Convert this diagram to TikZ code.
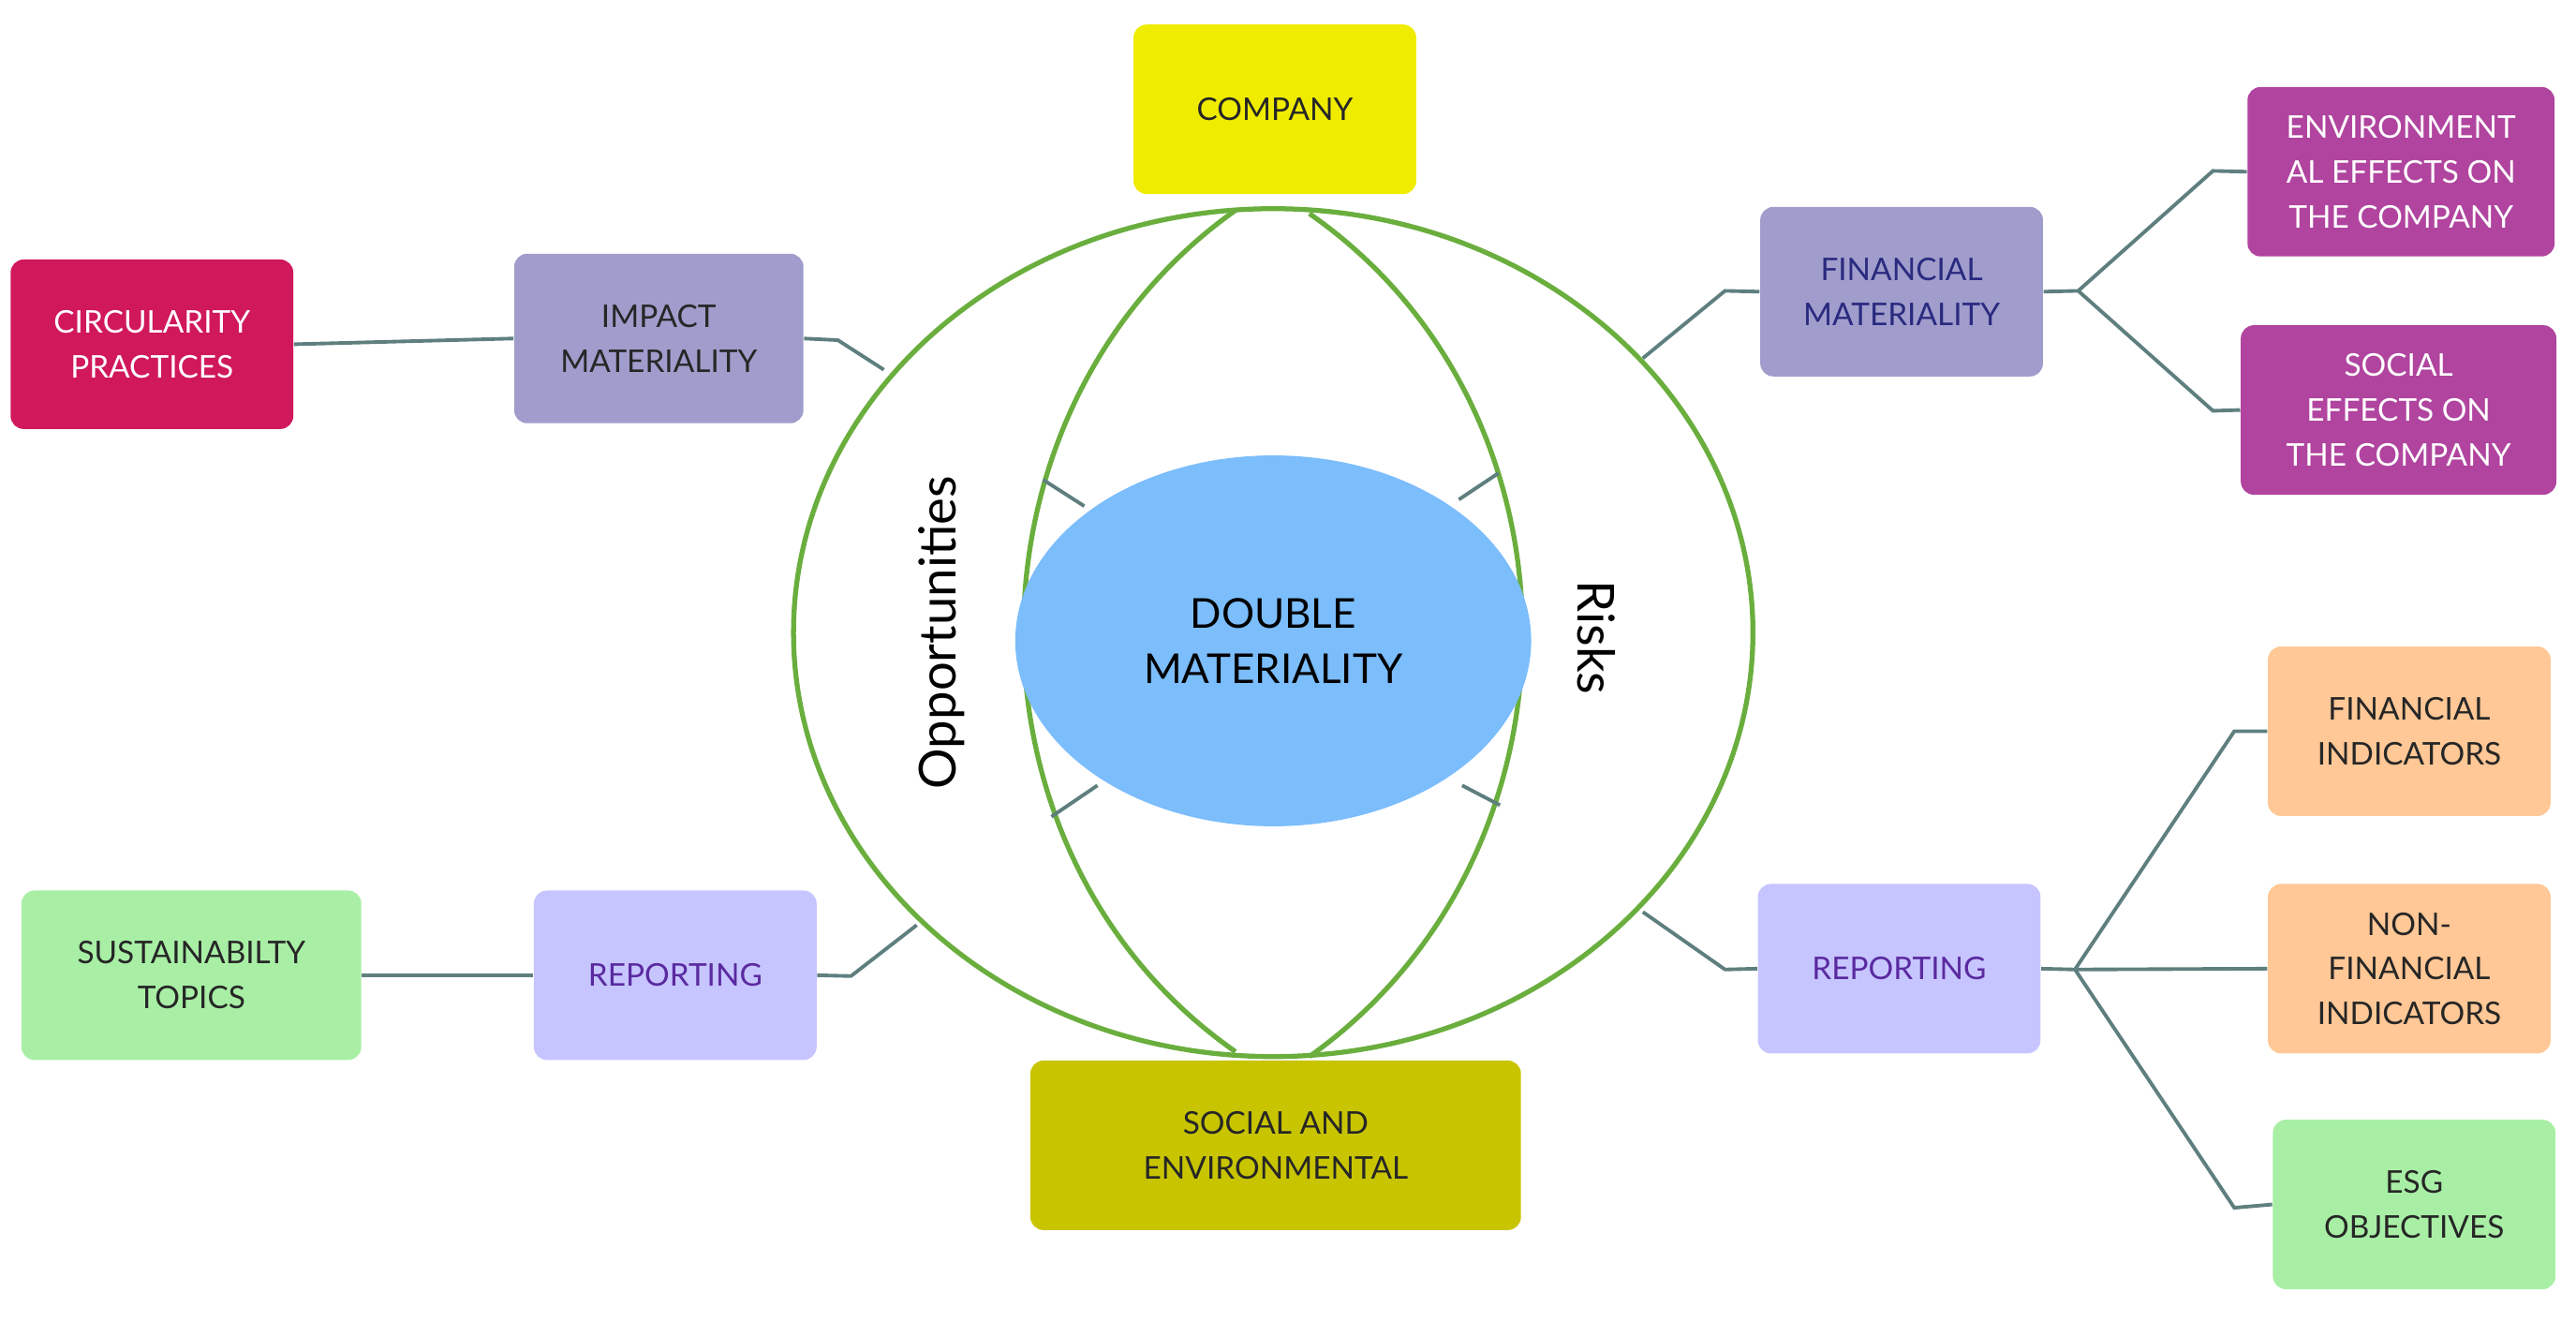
\documentclass[tikz,border=0pt]{standalone}
\usepackage{fontspec}
\setmainfont{Lato}
\usetikzlibrary{shapes.geometric}
\begin{document}
\begin{tikzpicture}[x=0.01754cm,y=-0.01754cm,
  box/.style={rounded corners=0.14cm,minimum width=3.02cm,minimum height=1.81cm,align=center,inner sep=2pt,font=\fontsize{9.5}{13.6}\selectfont,text=black!85},
  con/.style={draw=conc,line width=1.1pt},
  ring/.style={draw=ringc,line width=1.5pt}]
\definecolor{conc}{HTML}{5F7F7F}
\definecolor{ringc}{HTML}{6AAE3E}
\definecolor{cyel}{HTML}{F0EC00}
\definecolor{colive}{HTML}{C8C400}
\definecolor{cpur}{HTML}{A09DCC}
\definecolor{clav}{HTML}{C7C5FF}
\definecolor{ccrim}{HTML}{D0185A}
\definecolor{cmag}{HTML}{B0449F}
\definecolor{cgreen}{HTML}{A8EFA5}
\definecolor{corange}{HTML}{FFC896}
\definecolor{cblue}{HTML}{7CBDFC}
\definecolor{tpur}{HTML}{5A2AA0}
\definecolor{tnavy}{HTML}{2A2A80}
\useasboundingbox (0,0) rectangle (1568,804);
% rings
\draw[ring] (775,385) ellipse [x radius=292,y radius=258];
\draw[ring] (752,128) .. controls (580,250) and (580,520) .. (752,640);
\draw[ring] (797,130) .. controls (970,250) and (970,520) .. (797,643);
\node[ellipse,fill=cblue,minimum width=5.51cm,minimum height=3.96cm,inner sep=0pt,align=center,font=\fontsize{12.5}{17}\selectfont] (dm) at (775,390) {DOUBLE\\MATERIALITY};
\draw[con] (635,292) -- (660,308);
\draw[con] (888,304) -- (912,288);
\draw[con] (640,497) -- (668,478);
\draw[con] (890,478) -- (913,490);
\node[rotate=90,font=\fontsize{15.5}{18}\selectfont] (opp) at (573,385) {Opportunities};
\node[rotate=-90,font=\fontsize{15.5}{18}\selectfont] (risk) at (972,388) {Risks};
% boxes
\node[box,fill=cyel] (comp) at (776,66.5) {COMPANY};
\node[box,fill=colive,minimum width=5.24cm] (soc) at (776.5,697) {SOCIAL AND\\ENVIRONMENTAL};
\node[box,fill=cpur,minimum width=3.09cm] (imp) at (401,206) {IMPACT\\MATERIALITY};
\node[box,fill=ccrim,text=white] (circ) at (92.5,209.5) {CIRCULARITY\\PRACTICES};
\node[box,fill=clav,text=tpur] (repl) at (411,593.5) {REPORTING};
\node[box,fill=cgreen,minimum width=3.63cm] (sust) at (116.5,593.5) {SUSTAINABILTY\\TOPICS};
\node[box,fill=cpur,text=tnavy] (fin) at (1157.5,177.5) {FINANCIAL\\MATERIALITY};
\node[box,fill=cmag,text=white,minimum width=3.28cm] (env) at (1461.5,104.5) {ENVIRONMENT\\AL EFFECTS ON\\THE COMPANY};
\node[box,fill=cmag,text=white,minimum width=3.37cm] (sef) at (1460,249.5) {SOCIAL\\EFFECTS ON\\THE COMPANY};
\node[box,fill=clav,text=tpur] (repr) at (1156,589.5) {REPORTING};
\node[box,fill=corange] (fi) at (1466.5,445) {FINANCIAL\\INDICATORS};
\node[box,fill=corange] (nfi) at (1466.5,589.5) {NON-\\FINANCIAL\\INDICATORS};
\node[box,fill=cgreen] (esg) at (1469.5,733) {ESG\\OBJECTIVES};
% junctions
\coordinate (a1) at (538,225); \coordinate (a1b) at (510,207);
\coordinate (a2) at (558,563); \coordinate (a2b) at (518,594);
\coordinate (a3) at (1000,218); \coordinate (a3b) at (1050,177);
\coordinate (a4) at (1000,555); \coordinate (a4b) at (1050,590);
\coordinate (j1) at (1265,177); \coordinate (j1a) at (1347,104); \coordinate (j1b) at (1347,250);
\coordinate (j2) at (1263,590); \coordinate (j2a) at (1360,445); \coordinate (j2b) at (1360,735);
\draw[con] (circ.east) -- (imp.west);
\draw[con] (imp.east) -- (a1b) -- (a1);
\draw[con] (sust.east) -- (repl.west);
\draw[con] (repl.east) -- (a2b) -- (a2);
\draw[con] (a3) -- (a3b) -- (fin.west);
\draw[con] (a4) -- (a4b) -- (repr.west);
\draw[con] (fin.east) -- (j1) -- (j1a) -- (env.west);
\draw[con] (j1) -- (j1b) -- (sef.west);
\draw[con] (repr.east) -- (j2) -- (j2a) -- (fi.west);
\draw[con] (j2) -- (nfi.west);
\draw[con] (j2) -- (j2b) -- (esg.west);
\end{tikzpicture}
\end{document}
